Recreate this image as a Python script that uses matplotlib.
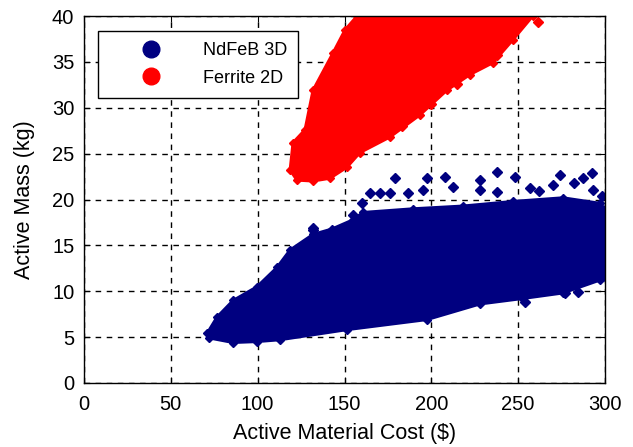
import numpy as np
import matplotlib.pyplot as plt
from matplotlib.lines import Line2D

plt.rcParams['font.family'] = ['Liberation Sans', 'DejaVu Sans']

BLUE = '#000080'
RED = '#ff0000'

# outline of the dense NdFeB 3D cloud (cost $, mass kg)
ndfeb_cost = [70.8, 76.6, 85.8, 99.6, 111.1, 118.6, 131.8, 142.8, 154.9, 160.6,
              189.4, 218.2, 247.0, 275.8, 297.0, 300.0, 300.0, 297.0, 275.8,
              252.7, 228.0, 197.5, 151.4, 112.8, 99.6, 85.8, 72.0]
ndfeb_mass = [5.4, 7.2, 9.0, 10.5, 12.6, 14.5, 16.2, 16.8, 17.8, 18.6,
              19.0, 19.3, 19.8, 20.2, 19.6, 19.0, 11.5, 11.2, 9.8,
              9.2, 8.6, 6.9, 5.8, 4.7, 4.5, 4.4, 4.9]

# loose NdFeB points above / around the dense cloud
ndfeb_out_cost = [179.0, 197.5, 207.8, 212.4, 228.0, 237.8, 248.1, 228.0, 237.8,
                  274.0, 292.5, 287.3, 270.0, 293.0, 164.6, 170.4, 176.2, 186.5,
                  195.2, 131.8, 142.8, 154.9, 160.0, 277.0, 284.4, 293.0, 253.9,
                  131.8, 257.0, 262.0, 282.0, 298.0]
ndfeb_out_mass = [22.3, 22.3, 22.5, 21.4, 22.1, 23.0, 22.5, 21.0, 20.8,
                  22.7, 22.9, 22.3, 21.6, 21.0, 20.7, 20.7, 20.7, 20.7,
                  21.0, 16.7, 16.5, 18.3, 19.6, 9.8, 9.9, 11.5, 8.8,
                  16.9, 21.2, 20.9, 21.8, 20.4]

# outline of the Ferrite 2D cloud
ferrite_cost = [157.2, 258.5, 247.0, 235.5, 222.2, 209.0, 193.4, 176.2, 158.9,
                151.4, 141.6, 131.8, 122.6, 118.6, 120.3, 127.2, 131.8, 143.4,
                150.3]
ferrite_mass = [40.0, 40.0, 37.4, 34.9, 33.6, 31.9, 29.2, 26.8, 25.1,
                23.5, 22.3, 22.0, 22.1, 23.2, 26.2, 27.6, 31.9, 36.0,
                38.5]
ferrite_out_cost = [261.5, 238.0, 215.0, 200.0, 183.0]
ferrite_out_mass = [39.3, 35.8, 32.6, 30.4, 28.0]

fig = plt.figure(figsize=(6.33, 4.47), dpi=100)
ax = fig.add_axes([84 / 633, 64 / 447, 521 / 633, 367 / 447])

ax.fill(ndfeb_cost, ndfeb_mass, color=BLUE, lw=2, zorder=2)
ax.plot(ndfeb_cost, ndfeb_mass, 'D', color=BLUE, ms=4, zorder=2)
ax.plot(ndfeb_out_cost, ndfeb_out_mass, 'D', color=BLUE, ms=5, zorder=2)

ax.fill(ferrite_cost, ferrite_mass, color=RED, lw=2, zorder=2)
ax.plot(ferrite_cost, ferrite_mass, 'D', color=RED, ms=4, zorder=2)
ax.plot(ferrite_out_cost, ferrite_out_mass, 'D', color=RED, ms=5, zorder=2)

ax.set_xlim(0, 300)
ax.set_ylim(0, 40)
ax.set_xticks(np.arange(0, 301, 50))
ax.set_yticks(np.arange(0, 41, 5))
ax.grid(True, color='black', linestyle=(0, (4, 4)), linewidth=1)
ax.set_axisbelow(True)
ax.tick_params(direction='in', top=True, right=True, labelsize=14.5, length=4)
ax.tick_params(axis='x', pad=9)
ax.tick_params(axis='y', pad=7)
for s in ax.spines.values():
    s.set_linewidth(1)
ax.set_xlabel('Active Material Cost ($)', fontsize=15.5, labelpad=6)
ax.set_ylabel('Active Mass (kg)', fontsize=15.5, labelpad=12)

handles = [Line2D([], [], ls='none', marker='o', color=BLUE, ms=12),
           Line2D([], [], ls='none', marker='o', color=RED, ms=12)]
leg = ax.legend(handles, ['NdFeB 3D', 'Ferrite 2D'], loc='upper left',
                bbox_to_anchor=(14 / 521, 352 / 367), borderaxespad=0,
                fontsize=13, fancybox=False, framealpha=1, edgecolor='black',
                handlelength=4.7, handletextpad=0.5, borderpad=0.6,
                labelspacing=0.6)
leg.get_frame().set_linewidth(1)
leg.set_zorder(5)

fig.savefig('out.png', dpi=100)
